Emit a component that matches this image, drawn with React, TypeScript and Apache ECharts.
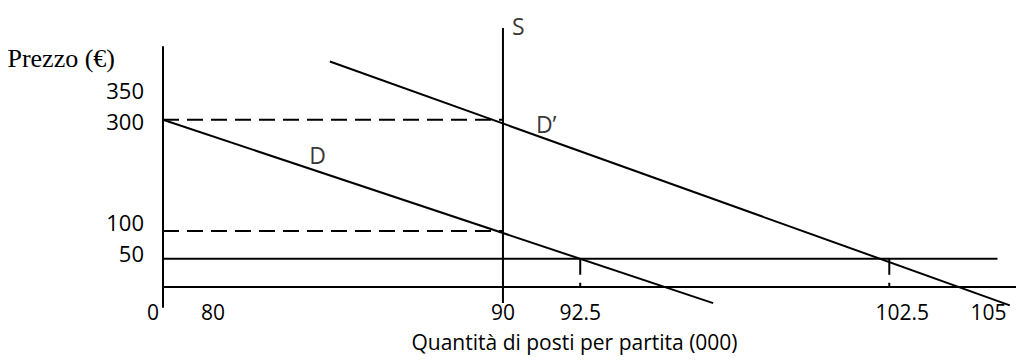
import React, { useEffect, useRef } from 'react';
import * as echarts from 'echarts';

// Axis ticks (quantity in thousands of seats, price in €)
const xTickValues = [79, 80, 90, 92.5, 102.5, 105];
const xTickLabels = ['0', '80', '90', '92.5', '102.5', '105'];
const yTickValues = [50, 100, 300, 350];
const yTickLabels = ['50', '100', '300', '350'];

// Curves and guide lines, [quantity, price]
const supplyS = [[90, -30], [90, 465]];
const demandD = [[79, 300], [96.8, -30]];
const demandD1 = [[84.4, 405], [106.4, -34]];
const price50 = [[79, 50], [106, 50]];
const guide300 = [[79, 300], [90, 300]];
const guide100 = [[79, 100], [90, 100]];
const guide925 = [[92.5, 50], [92.5, 0]];
const guide1025 = [[102.5, 50], [102.5, 0]];

// Curve name annotations
const curveNames = ['S', 'D', 'D’'];
const curveNameAnchors = [[90.5, 468], [84, 236], [91.4, 293]];

// label nudges (px) to follow the hand-drawn layout
const xLabelNudge: Record<string, number> = { '0': -10, '80': 19, '102.5': 13, '105': 22 };
const yLabelNudge: Record<string, number> = { '350': -2, '300': 1, '100': -9, '50': -6 };

const SANS = "'Open Sans', 'Noto Sans', sans-serif";
const SERIF = "'Liberation Serif', 'DejaVu Serif', serif";

export default function App() {
  const ref = useRef<HTMLDivElement>(null);
  useEffect(() => {
    if (!ref.current) return;
    const chart = echarts.init(ref.current, undefined, { renderer: 'svg' });

    const xRich: Record<string, any> = {};
    xTickLabels.forEach((l, i) => {
      const n = xLabelNudge[l] || 0;
      xRich['x' + i] = { padding: n >= 0 ? [0, 0, 0, 2 * n] : [0, -2 * n, 0, 0] };
    });
    const yRich: Record<string, any> = {};
    yTickLabels.forEach((l, i) => {
      const n = yLabelNudge[l] || 0;
      yRich['y' + i] = { padding: n >= 0 ? [2 * n, 0, 0, 0] : [0, 0, -2 * n, 0] };
    });

    const solid = { color: '#000', width: 2 };
    const dashed = { color: '#000', width: 2, type: [16, 8] as any };
    const lineSeries = (name: string, data: number[][], style: any) => ({
      name,
      type: 'line',
      data,
      showSymbol: false,
      symbol: 'none',
      clip: false,
      silent: true,
      lineStyle: style,
    });

    chart.setOption({
      animation: false,
      grid: { left: 163, right: 0, top: 47, bottom: 53, containLabel: false, outerBoundsMode: 'none' },
      xAxis: {
        type: 'value',
        min: 79,
        max: 106.6,
        axisLine: { show: true, onZero: true, lineStyle: { color: '#000', width: 2 } },
        axisTick: { show: false },
        splitLine: { show: false },
        axisLabel: {
          customValues: xTickValues,
          formatter: (v: number) => {
            const i = xTickValues.indexOf(v);
            return i < 0 ? '' : `{x${i}|${xTickLabels[i]}}`;
          },
          rich: xRich,
          margin: -6,
          color: '#000',
          fontFamily: SANS,
          fontSize: 21,
        },
        name: 'Quantità di posti per partita (000)',
        nameLocation: 'middle',
        nameGap: 24,
        nameMoveOverlap: false,
        nameTextStyle: { color: '#000', fontFamily: SANS, fontSize: 21, padding: [0, 30, 0, 0] },
      },
      yAxis: {
        type: 'value',
        min: -37,
        max: 431,
        axisLine: { show: true, onZero: false, lineStyle: { color: '#000', width: 2 } },
        axisTick: { show: false },
        splitLine: { show: false },
        axisLabel: {
          customValues: yTickValues,
          formatter: (v: number) => {
            const i = yTickValues.indexOf(v);
            return i < 0 ? '' : `{y${i}|${yTickLabels[i]}}`;
          },
          rich: yRich,
          margin: 19,
          color: '#000',
          fontFamily: SANS,
          fontSize: 22,
        },
        name: 'Prezzo (€)',
        nameLocation: 'end',
        nameGap: -11,
        nameMoveOverlap: false,
        nameTextStyle: {
          color: '#000',
          fontFamily: SERIF,
          fontSize: 26,
          align: 'right',
          verticalAlign: 'middle',
          padding: [0, 48, 0, 0],
        },
      },
      series: [
        lineSeries('S', supplyS, solid),
        lineSeries('D', demandD, solid),
        lineSeries('D’', demandD1, solid),
        lineSeries('P50', price50, solid),
        lineSeries('g300', guide300, dashed),
        lineSeries('g100', guide100, dashed),
        lineSeries('g92.5', guide925, dashed),
        lineSeries('g102.5', guide1025, dashed),
        {
          name: 'labels',
          type: 'scatter',
          clip: false,
          silent: true,
          symbolSize: 0,
          data: curveNameAnchors.map((c, i) => ({ value: c, name: curveNames[i] })),
          label: {
            show: true,
            position: 'inside',
            formatter: (p: any) => p.name,
            color: '#000',
            fontFamily: SANS,
            fontSize: 23,
          },
        },
      ],
    });
    return () => chart.dispose();
  }, []);
  return (
    <div
      ref={ref}
      style={{ position: 'absolute', left: 0, top: 0, width: 1016, height: 360, background: '#fff' }}
    />
  );
}
